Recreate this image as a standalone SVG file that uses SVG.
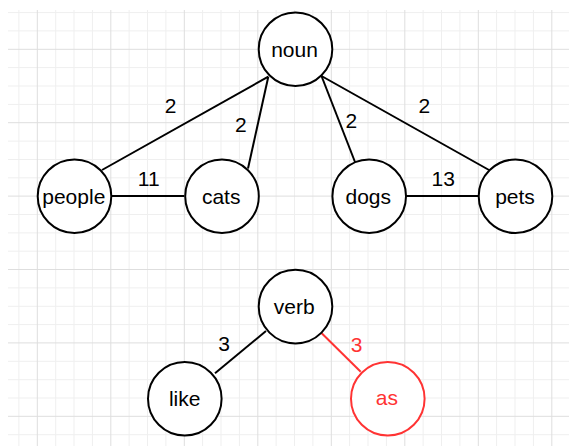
<svg xmlns="http://www.w3.org/2000/svg" width="569" height="446" viewBox="0 0 569 446">
  <style>
    .minor { stroke: #efefef; stroke-width: 1; fill: none; }
    .major { stroke: #dedede; stroke-width: 1; fill: none; }
    .node circle { fill: #ffffff; stroke: #000000; stroke-width: 2; }
    .node text, .lbl { font-family: "Liberation Sans", Arial, sans-serif; font-size: 21px; fill: #000000; text-anchor: middle; }
    .edge { stroke: #000000; stroke-width: 2; fill: none; }
    .red circle { stroke: #ff3333; }
    .red text, .lbl.red { fill: #ff3333; }
    .edge.red { stroke: #ff3333; }
  </style>

  <!-- background grid -->
  <rect x="0" y="0" width="569" height="446" fill="#ffffff"/>
  <g id="grid">
    <path class="minor" d="
      M18.9 10V446 M55.7 10V446 M74 10V446 M92.4 10V446 M129.1 10V446 M147.5 10V446 M165.9 10V446
      M202.6 10V446 M221 10V446 M239.4 10V446 M276.1 10V446 M294.5 10V446 M312.9 10V446
      M349.6 10V446 M368 10V446 M386.4 10V446 M423.1 10V446 M441.5 10V446 M459.9 10V446
      M496.6 10V446 M515 10V446 M533.4 10V446
      M8 12.6H569 M8 30.9H569 M8 67.6H569 M8 86H569 M8 104.4H569 M8 141.1H569 M8 159.5H569
      M8 177.8H569 M8 214.5H569 M8 232.9H569 M8 251.2H569 M8 287.9H569 M8 306.3H569 M8 324.6H569
      M8 361.3H569 M8 379.7H569 M8 398H569 M8 434.7H569"/>
    <path class="major" d="
      M37.3 10V446 M110.8 10V446 M184.3 10V446 M257.8 10V446 M331.3 10V446 M404.8 10V446
      M478.3 10V446 M551.8 10V446
      M8 49.3H569 M8 122.7H569 M8 196.1H569 M8 269.5H569 M8 342.9H569 M8 416.3H569"/>
  </g>

  <!-- connectors and their weights -->
  <g id="edges">
    <line class="edge" x1="268.3" y1="76.7" x2="102" y2="170"/>
    <line class="edge" x1="268.3" y1="76.7" x2="248" y2="168.5"/>
    <line class="edge" x1="321.5" y1="76" x2="355" y2="162"/>
    <line class="edge" x1="321.5" y1="76" x2="489" y2="170"/>
    <line class="edge" x1="111.7" y1="196.1" x2="184.3" y2="196.1"/>
    <line class="edge" x1="406" y1="196.1" x2="478.7" y2="196.1"/>
    <line class="edge" x1="266" y1="331" x2="215" y2="373.3"/>
    <line class="edge red" x1="321.7" y1="333.3" x2="360.7" y2="371.7"/>

    <text class="lbl" x="170.5" y="113">2</text>
    <text class="lbl" x="240.8" y="131.5">2</text>
    <text class="lbl" x="351.3" y="128">2</text>
    <text class="lbl" x="424.3" y="112.5">2</text>
    <text class="lbl" x="148.7" y="186">11</text>
    <text class="lbl" x="443.3" y="186">13</text>
    <text class="lbl" x="224" y="350.7">3</text>
    <text class="lbl red" x="356.7" y="351.5">3</text>
  </g>

  <!-- nodes -->
  <g id="noun" class="node">
    <circle cx="295.5" cy="49.3" r="36.8"/>
    <text x="294.5" y="56.7">noun</text>
  </g>
  <g id="people" class="node">
    <circle cx="74.5" cy="196.3" r="36.8"/>
    <text x="73.8" y="204">people</text>
  </g>
  <g id="cats" class="node">
    <circle cx="222" cy="196.3" r="36.8"/>
    <text x="221.2" y="204">cats</text>
  </g>
  <g id="dogs" class="node">
    <circle cx="369.2" cy="196.3" r="36.8"/>
    <text x="368.3" y="204">dogs</text>
  </g>
  <g id="pets" class="node">
    <circle cx="515.5" cy="196.3" r="36.8"/>
    <text x="515" y="204">pets</text>
  </g>
  <g id="verb" class="node">
    <circle cx="295.5" cy="306.6" r="36.8"/>
    <text x="294.2" y="314">verb</text>
  </g>
  <g id="like" class="node">
    <circle cx="184.8" cy="398.7" r="36.8"/>
    <text x="184.7" y="405.7">like</text>
  </g>
  <g id="as" class="node red">
    <circle cx="387.8" cy="398.7" r="36.8"/>
    <text x="386.8" y="405.2">as</text>
  </g>
</svg>
